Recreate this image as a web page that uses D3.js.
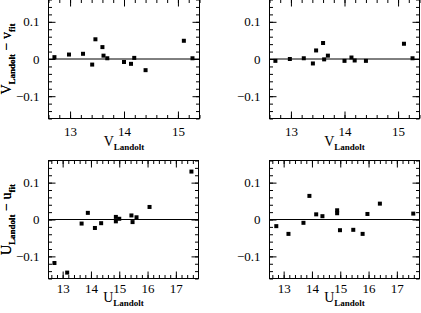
<!DOCTYPE html>
<html>
<head>
<meta charset="utf-8">
<script src="https://cdn.jsdelivr.net/npm/d3@7"></script>
<style>
  body { margin: 0; background: #fff; }
  text { font-family: "Liberation Serif", "DejaVu Serif", serif; fill: #000; }
  .axis path { display: none; }
  .axis line { stroke: #000; stroke-width: 1; }
</style>
</head>
<body>
<svg id="chart" width="421" height="313"></svg>
<script>
// V_Landolt of the standard stars (top panels)
const vLandolt = [12.71, 12.98, 13.24, 13.41, 13.47, 13.60, 13.62, 13.69, 14.00, 14.13, 14.19, 14.40, 15.11, 15.27];
const vResidLeft = [0.005, 0.012, 0.014, -0.015, 0.053, 0.032, 0.009, 0.002, -0.008, -0.013, 0.003, -0.030, 0.049, 0.002];
const vResidRight = [-0.005, 0.000, 0.002, -0.012, 0.023, 0.043, -0.001, 0.009, -0.005, 0.004, -0.004, -0.005, 0.041, 0.002];

// U_Landolt (bottom panels)
const uLandoltLeft = [12.71, 13.16, 13.67, 13.89, 14.14, 14.36, 14.88, 14.88, 15.00, 15.43, 15.47, 15.61, 16.07, 17.55];
const uResidLeft = [-0.118, -0.144, -0.011, 0.018, -0.023, -0.010, 0.007, -0.005, 0.002, 0.011, -0.007, 0.006, 0.034, 0.130];
const uLandoltRight = [12.74, 13.17, 13.70, 13.91, 14.15, 14.37, 14.89, 14.89, 14.99, 15.46, 15.79, 15.96, 16.40, 17.58];
const uResidRight = [-0.018, -0.039, -0.009, 0.064, 0.014, 0.009, 0.025, 0.017, -0.029, -0.028, -0.039, 0.015, 0.043, 0.016];

// axis tick values
const vMajor = [13, 14, 15];
const vMinor = d3.range(63, 78).map(i => i / 5);
const uMajor = [13, 14, 15, 16, 17];
const uMinor = d3.range(63, 89).map(i => i / 5);
const yMajor = [-0.1, 0, 0.1];
const yMinor = d3.range(-8, 9).map(i => i / 50);

const svg = d3.select('#chart');

const panels = [
  { xs: vLandolt, ys: vResidLeft, xDomain: [12.6, 15.4], xMajor: vMajor, xMinor: vMinor, left: 48.5, top: -0.5, w: 151, h: 119, band: 'V', low: 'v', pad: 8, lab: 27 },
  { xs: vLandolt, ys: vResidRight, xDomain: [12.6, 15.4], xMajor: vMajor, xMinor: vMinor, left: 269.5, top: -0.5, w: 150, h: 119, band: 'V', low: 'v', pad: 8, lab: 27 },
  { xs: uLandoltLeft, ys: uResidLeft, xDomain: [12.5, 17.8], xMajor: uMajor, xMinor: uMinor, left: 48.5, top: 160.5, w: 150, h: 118, band: 'U', low: 'u', pad: 5, lab: 23 },
  { xs: uLandoltRight, ys: uResidRight, xDomain: [12.5, 17.8], xMajor: uMajor, xMinor: uMinor, left: 269.5, top: 160.5, w: 150, h: 118, band: 'U', low: 'u', pad: 5, lab: 23 }
];

const yFmt = d => d === 0 ? '0' : d3.format('.1f')(d);

panels.forEach(p => {
  const g = svg.append('g').attr('transform', `translate(${p.left},${p.top})`);

  const x = d3.scaleLinear().domain(p.xDomain).range([0, p.w]);
  const y = d3.scaleLinear().domain([-0.16, 0.16]).range([p.h, 0]);

  // minor ticks on all four sides, pointing inward
  g.append('g').attr('class', 'axis')
    .call(d3.axisLeft(y).tickValues(yMinor).tickSize(-3.5).tickFormat(''));
  g.append('g').attr('class', 'axis').attr('transform', `translate(${p.w},0)`)
    .call(d3.axisRight(y).tickValues(yMinor).tickSize(-3.5).tickFormat(''));
  g.append('g').attr('class', 'axis')
    .call(d3.axisTop(x).tickValues(p.xMinor).tickSize(-3.5).tickFormat(''));
  g.append('g').attr('class', 'axis').attr('transform', `translate(0,${p.h})`)
    .call(d3.axisBottom(x).tickValues(p.xMinor).tickSize(-3.5).tickFormat(''));

  // major ticks with labels on left and bottom
  g.append('g').attr('class', 'axis')
    .call(d3.axisLeft(y).tickValues(yMajor).tickSize(-7).tickPadding(9).tickFormat(yFmt))
    .selectAll('text').style('font-size', '13px');
  g.append('g').attr('class', 'axis').attr('transform', `translate(${p.w},0)`)
    .call(d3.axisRight(y).tickValues(yMajor).tickSize(-7).tickFormat(''));
  g.append('g').attr('class', 'axis')
    .call(d3.axisTop(x).tickValues(p.xMajor).tickSize(-7).tickFormat(''));
  g.append('g').attr('class', 'axis').attr('transform', `translate(0,${p.h})`)
    .call(d3.axisBottom(x).tickValues(p.xMajor).tickSize(-7).tickPadding(p.pad).tickFormat(d3.format('d')))
    .selectAll('text').style('font-size', '13px');

  // frame
  g.append('rect')
    .attr('width', p.w).attr('height', p.h)
    .attr('fill', 'none').attr('stroke', '#000').attr('stroke-width', 1);

  // zero line
  g.append('line')
    .attr('x1', 0).attr('x2', p.w)
    .attr('y1', y(0)).attr('y2', y(0))
    .attr('stroke', '#000').attr('stroke-width', 1);

  // points
  g.selectAll('rect.pt')
    .data(p.xs.map((v, i) => [v, p.ys[i]]))
    .enter().append('rect')
    .attr('class', 'pt')
    .attr('x', d => x(d[0]) - 2)
    .attr('y', d => y(d[1]) - 2)
    .attr('width', 4).attr('height', 4)
    .attr('fill', '#000');

  // x label
  const xl = g.append('text')
    .attr('x', p.w / 2).attr('y', p.h + p.lab)
    .attr('text-anchor', 'middle')
    .style('font-size', '14px');
  xl.append('tspan').text(p.band);
  xl.append('tspan').attr('dy', 4).style('font-size', '9px').style('font-weight', 'bold').text('Landolt');

  // y label
  const yl = g.append('text')
    .attr('transform', `translate(${-p.left + 11},${p.h / 2}) rotate(-90)`)
    .attr('text-anchor', 'middle')
    .style('font-size', '14px');
  yl.append('tspan').text(p.band);
  yl.append('tspan').attr('dy', 4).style('font-size', '9px').style('font-weight', 'bold').text('Landolt');
  yl.append('tspan').attr('dy', -4).text(' \u2212 ' + p.low);
  yl.append('tspan').attr('dy', 4).style('font-size', '9px').style('font-weight', 'bold').text('fit');
});
</script>
</body>
</html>
